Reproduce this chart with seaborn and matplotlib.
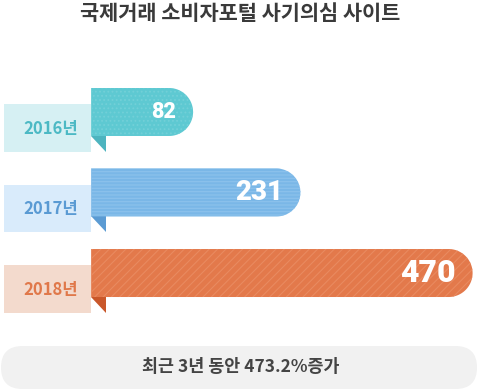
import numpy as np
import matplotlib
matplotlib.use("Agg")
import matplotlib.pyplot as plt
from matplotlib.path import Path
from matplotlib.patches import PathPatch, Rectangle, Polygon, FancyBboxPatch
import seaborn as sns

# 데이터
years = ["2016년", "2017년", "2018년"]
counts = [82, 231, 470]
title = "국제거래 소비자포털 사기의심 사이트"
summary = "최근 3년 동안 473.2%증가"

# 색상
bar_colors = ["#5ec9d2", "#7ab7e7", "#e3794b"]
hatch_colors = ["#72d0d8", "#8dc2ec", "#e98a60"]
hatches = ["....", "-----", "////"]
box_colors = ["#d6f0f3", "#d9ebfb", "#f3dacd"]
text_colors = ["#4cb9c4", "#5a9ad3", "#e0784a"]
fold_colors = ["#4db4bf", "#5b9bd3", "#c9572a"]
value_sizes = [15.5, 20, 23]

sns.set_theme(style="white")
plt.rcParams["font.family"] = ["Noto Sans CJK KR", "DejaVu Sans"]
plt.rcParams["hatch.linewidth"] = 0.8

fig = plt.figure(figsize=(4.78, 3.90), dpi=100)
ax = fig.add_axes([0, 0, 1, 1])

sns.barplot(x=counts, y=years, orient="h", width=0.596, ax=ax)

# 픽셀 <-> 데이터 변환 (x: 1단위 = 0.7207px, y: 1단위 = 80.5px)
px_x = 0.7207
px_y = 80.5
ax.set_xlim(-186, 477.5)
ax.set_ylim(3.453, -1.391)
ax.axis("off")

bar_start = -59.5
bars = list(ax.patches)
for p in bars:
    p.remove()

for i, p in enumerate(bars):
    y0, h, w = p.get_y(), p.get_height(), p.get_width()
    yc = y0 + h / 2
    rx = h / 2 * px_y / px_x
    t = np.linspace(-np.pi / 2, np.pi / 2, 60)
    verts = [(bar_start, y0), (w - rx, y0)]
    verts += list(zip(w - rx + rx * np.cos(t), yc + h / 2 * np.sin(t)))
    verts += [(bar_start, y0 + h), (bar_start, y0)]
    codes = [Path.MOVETO] + [Path.LINETO] * (len(verts) - 2) + [Path.CLOSEPOLY]
    ax.add_patch(PathPatch(Path(verts, codes), facecolor=bar_colors[i],
                           edgecolor=hatch_colors[i], lw=0, hatch=hatches[i], zorder=3))

    # 연도 라벨 박스
    off = 16 / px_y
    box_left = -186 + 4 / px_x
    ax.add_patch(Rectangle((box_left, y0 + off), bar_start - box_left, h,
                           facecolor=box_colors[i], lw=0, zorder=2))
    fw = 15 / px_x
    ax.add_patch(Polygon([(bar_start, y0 + h), (bar_start + fw, y0 + h),
                          (bar_start + fw, y0 + h + off)],
                         facecolor=fold_colors[i], lw=0, zorder=2))
    ax.text(-186 + 51 / px_x, yc + off + 0.01, years[i], ha="center", va="center",
            fontsize=12, fontweight="bold", color=text_colors[i], zorder=4)

    # 값
    ax.text(w - 17 / px_x, yc, str(counts[i]), ha="right", va="center",
            fontsize=value_sizes[i], fontweight="heavy", color="white",
            family=["Roboto", "DejaVu Sans"], zorder=4)

fig.text(0.503, 1 - 14 / 390, title, ha="center", va="center",
         fontsize=15, fontweight="bold", color="#3a3a3a")

pill = FancyBboxPatch((0.01, 0.01), 4.76, 0.43, boxstyle="round,pad=0,rounding_size=0.215",
                      transform=fig.dpi_scale_trans, facecolor="#f1f1f1", lw=0)
fig.patches.append(pill)
fig.text(2.41 / 4.78, 0.235 / 3.90, summary, ha="center", va="center",
         fontsize=12.5, fontweight="bold", color="#444444")

fig.savefig("out.png", dpi=100)
